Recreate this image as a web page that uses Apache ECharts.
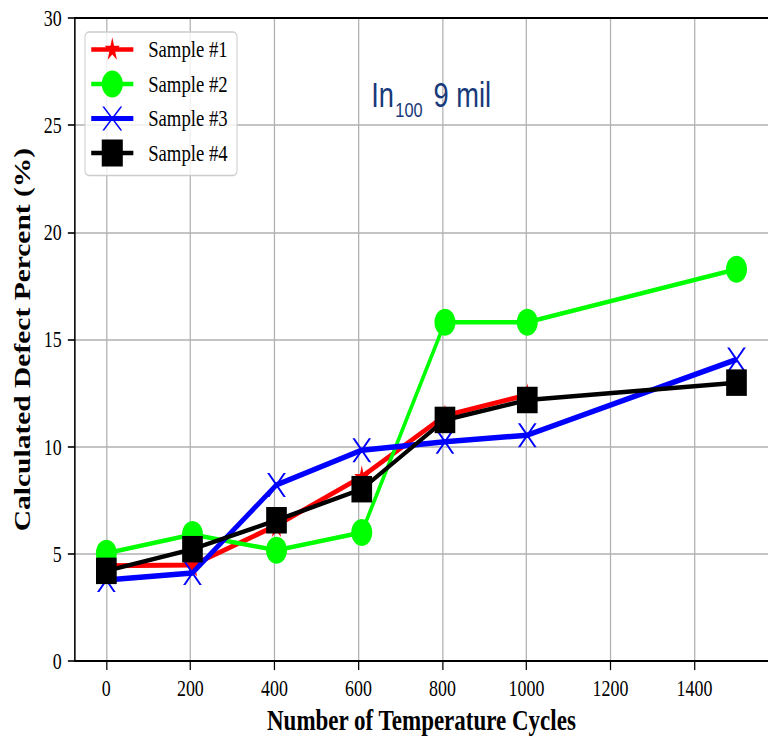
<!DOCTYPE html>
<html>
<head>
<meta charset="utf-8">
<script src="https://cdn.jsdelivr.net/npm/echarts@6/dist/echarts.min.js"></script>
<style>
html,body{margin:0;padding:0;background:#fff;overflow:hidden;width:768px;height:740px;}
#wrap{width:768px;height:740px;overflow:hidden;position:relative;}
#chart{width:985px;height:740px;transform:scaleX(0.7797);transform-origin:0 0;position:absolute;left:0;top:0;}
</style>
</head>
<body>
<div id="wrap"><div id="chart"></div></div>
<script>
// ---- data ----
const cycles = [0, 205, 405, 608, 806, 1002, 1500];
const sample1 = [4.45, 4.48, 6.33, 8.6, 11.45, 12.42];
const sample2 = [5.03, 5.91, 5.17, 6.0, 15.81, 15.81, 18.28];
const sample3 = [3.78, 4.11, 8.22, 9.84, 10.23, 10.54, 14.07];
const sample4 = [4.21, 5.22, 6.57, 8.02, 11.25, 12.18, 12.99];
const seriesNames = ['Sample #1', 'Sample #2', 'Sample #3', 'Sample #4'];
const xTicks = [0, 200, 400, 600, 800, 1000, 1200, 1400];
const yTicks = [0, 5, 10, 15, 20, 25, 30];

// ---- symbols ----
const starPath = 'path://M10,0 L12.245,6.91 L19.511,6.91 L13.633,11.18 L15.878,18.09 L10,13.82 L4.122,18.09 L6.367,11.18 L0.489,6.91 L7.755,6.91 Z';
const xPath = 'path://M0,0 L3,0 L24,24 L21,24 Z M21,0 L24,0 L3,24 L0,24 Z';
const bbox = ' M0,0 L0,0 Z M68,27 L68,27 Z';
function bar(t){ const a=13.5-t/2, b=13.5+t/2; return 'M0,'+a+' L54,'+a+' L54,'+b+' L0,'+b+' Z '; }
const iconStar = 'path://' + bar(4.6) + 'M27,1.2 L29.27,9.84 L36.61,9.84 L30.67,15.18 L32.94,23.81 L27,18.48 L21.06,23.81 L23.33,15.18 L17.39,9.84 L24.73,9.84 Z' + bbox;
const iconCircle = 'path://' + bar(4.6) + 'M13.5,13.5 A13.5,13.5 0 1 1 40.5,13.5 A13.5,13.5 0 1 1 13.5,13.5 Z' + bbox;
const iconX = 'path://' + bar(5) + 'M14.2,1.5 L16.6,1.5 L39.8,25.5 L37.4,25.5 Z M37.4,1.5 L39.8,1.5 L16.6,25.5 L14.2,25.5 Z' + bbox;
const iconSquare = 'path://' + bar(4.6) + 'M13.5,0 L40.5,0 L40.5,27 L13.5,27 Z' + bbox;

const serif = '"Liberation Serif", "Times New Roman", serif';
const pairs = (ys) => ys.map((y, i) => [cycles[i], y]);

const chart = echarts.init(document.getElementById('chart'), null, {renderer: 'svg', width: 985, height: 740});
chart.setOption({
  animation: false,
  backgroundColor: '#fff',
  grid: {left: 96, right: 0, top: 18, bottom: 76, containLabel: false},
  legend: {
    left: 109, top: 32, orient: 'vertical',
    itemWidth: 68, itemHeight: 27, itemGap: 7.5,
    padding: [4, 12, 9, 8],
    borderColor: '#cccccc', borderWidth: 1.3, borderRadius: 5,
    backgroundColor: 'rgba(255,255,255,0.8)',
    textStyle: {fontFamily: serif, fontSize: 24, color: '#000'},
    data: [
      {name: seriesNames[0], icon: iconStar},
      {name: seriesNames[1], icon: iconCircle},
      {name: seriesNames[2], icon: iconX},
      {name: seriesNames[3], icon: iconSquare}
    ]
  },
  xAxis: [{
    type: 'value', min: -75, max: 1575, splitNumber: 8,
    name: 'Number of Temperature Cycles', nameLocation: 'middle', nameGap: 42,
    nameTextStyle: {fontFamily: serif, fontSize: 29.5, fontWeight: 'bold', color: '#000'},
    axisLine: {show: true, onZero: false, lineStyle: {color: '#000', width: 2}},
    axisTick: {show: true, inside: false, length: 9, customValues: xTicks, lineStyle: {color: '#000', width: 1.6}},
    axisLabel: {show: true, margin: 16, customValues: xTicks, fontFamily: serif, fontSize: 23, color: '#000',
      formatter: (v) => (xTicks.indexOf(v) >= 0 ? String(v) : '')},
    splitLine: {show: true, lineStyle: {color: '#b0b0b0', width: 1.6}}
  }, {
    type: 'value', position: 'top', min: -75, max: 1575,
    axisLine: {show: true, onZero: false, lineStyle: {color: '#000', width: 2}},
    axisTick: {show: false}, axisLabel: {show: false}, splitLine: {show: false}
  }],
  yAxis: {
    type: 'value', min: 0, max: 30, interval: 5,
    name: 'Calculated Defect Percent (%)', nameLocation: 'middle', nameGap: 52,
    nameTextStyle: {fontFamily: serif, fontSize: 29.5, fontWeight: 'bold', color: '#000'},
    axisLine: {show: true, onZero: false, lineStyle: {color: '#000', width: 2}},
    axisTick: {show: true, inside: false, length: 9, lineStyle: {color: '#000', width: 1.6}},
    axisLabel: {show: true, margin: 17, fontFamily: serif, fontSize: 23, color: '#000',
      customValues: yTicks},
    splitLine: {show: true, lineStyle: {color: '#b0b0b0', width: 1.6}}
  },
  graphic: [
    {type: 'text', left: 476, top: 78, z: 100, style: {text: 'In', font: '35px "Liberation Sans", Arial, sans-serif', fill: '#183a7a'}},
    {type: 'text', left: 507, top: 99, z: 100, style: {text: '100', font: '21px "Liberation Sans", Arial, sans-serif', fill: '#183a7a'}},
    {type: 'text', left: 556, top: 78, z: 100, style: {text: '9 mil', font: '35px "Liberation Sans", Arial, sans-serif', fill: '#183a7a'}}
  ],
  series: [
    {name: seriesNames[0], type: 'line', z: 2, data: pairs(sample1), symbol: starPath, symbolSize: [19, 23],
      showAllSymbol: true, lineStyle: {color: '#ff0000', width: 5}, itemStyle: {color: '#ff0000'}},
    {name: seriesNames[1], type: 'line', z: 3, data: pairs(sample2), symbol: 'circle', symbolSize: 27,
      showAllSymbol: true, lineStyle: {color: '#00ff00', width: 4.5}, itemStyle: {color: '#00ff00'}},
    {name: seriesNames[2], type: 'line', z: 4, data: pairs(sample3), symbol: xPath, symbolSize: 24,
      showAllSymbol: true, lineStyle: {color: '#0000ff', width: 5.5}, itemStyle: {color: '#0000ff'}},
    {name: seriesNames[3], type: 'line', z: 5, data: pairs(sample4), symbol: 'rect', symbolSize: [26.5, 26.5],
      showAllSymbol: true, lineStyle: {color: '#000000', width: 4.5}, itemStyle: {color: '#000000'}}
  ]
});
</script>
</body>
</html>
